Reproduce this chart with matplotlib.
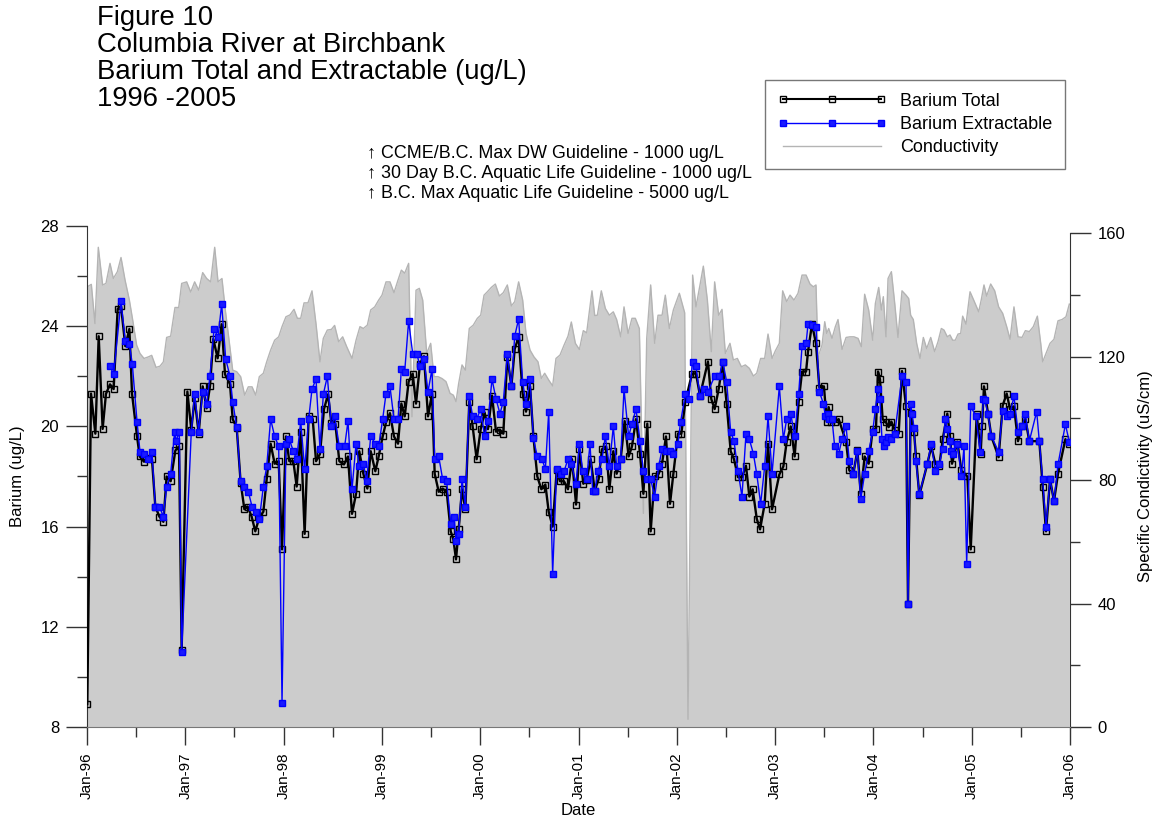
import matplotlib
matplotlib.use("Agg")
import matplotlib.pyplot as plt
from matplotlib.lines import Line2D
from matplotlib.ticker import MultipleLocator

plt.rcParams['font.family'] = ['Liberation Sans', 'DejaVu Sans']

# ---------------- data (decimal years) ----------------
cond_year = [
    1996.003, 1996.044, 1996.081, 1996.115, 1996.159, 1996.193, 1996.234, 1996.268, 1996.309, 1996.346,
    1996.387, 1996.431, 1996.465, 1996.505, 1996.539, 1996.580, 1996.624, 1996.658, 1996.702, 1996.743,
    1996.777, 1996.810, 1996.851, 1996.895, 1996.933, 1996.963, 1997.014, 1997.055, 1997.095, 1997.136,
    1997.177, 1997.217, 1997.258, 1997.299, 1997.333, 1997.373, 1997.407, 1997.441, 1997.482, 1997.523,
    1997.563, 1997.604, 1997.641, 1997.679, 1997.716, 1997.753, 1997.794, 1997.828, 1997.868, 1997.909,
    1997.950, 1997.984, 1998.024, 1998.065,
    1998.106, 1998.140, 1998.174, 1998.208, 1998.248, 1998.289, 1998.330, 1998.370, 1998.404, 1998.445,
    1998.486, 1998.519, 1998.560, 1998.601, 1998.642, 1998.696, 1998.737, 1998.777, 1998.811, 1998.852,
    1998.886, 1998.927, 1998.967, 1999.001, 1999.042, 1999.082, 1999.123, 1999.164, 1999.198, 1999.232,
    1999.272, 1999.306, 1999.347, 1999.381, 1999.415, 1999.456, 1999.496, 1999.530, 1999.571, 1999.611,
    1999.652, 1999.693, 1999.727, 1999.754, 1999.781, 1999.815, 1999.849, 1999.889, 1999.930, 1999.971,
    2000.005, 2000.039, 2000.073,
    2000.113, 2000.154, 2000.195, 2000.235, 2000.276, 2000.317, 2000.351, 2000.391, 2000.432, 2000.466,
    2000.507, 2000.547, 2000.588, 2000.622, 2000.656, 2000.697, 2000.737, 2000.771, 2000.812, 2000.853,
    2000.893, 2000.927, 2000.968, 2001.009, 2001.049, 2001.083, 2001.137, 2001.165, 2001.192, 2001.232,
    2001.273, 2001.314, 2001.354, 2001.388, 2001.429, 2001.463, 2001.504, 2001.544, 2001.578, 2001.619,
    2001.660, 2001.694, 2001.734, 2001.775, 2001.809, 2001.850, 2001.883, 2001.924, 2001.965, 2002.026,
    2002.080, 2002.114,
    2002.161, 2002.195, 2002.236, 2002.270, 2002.311, 2002.351, 2002.385, 2002.426, 2002.460, 2002.494,
    2002.541, 2002.575, 2002.616, 2002.657, 2002.697, 2002.738, 2002.779, 2002.813, 2002.853, 2002.894,
    2002.928, 2002.969, 2003.003, 2003.043, 2003.077, 2003.118, 2003.152, 2003.192, 2003.233, 2003.274,
    2003.315, 2003.355, 2003.389, 2003.416, 2003.437, 2003.477, 2003.505, 2003.525, 2003.545, 2003.579,
    2003.613, 2003.640, 2003.681, 2003.722, 2003.762, 2003.803, 2003.844, 2003.877, 2003.911, 2003.952,
    2003.993, 2004.020, 2004.054, 2004.081, 2004.101, 2004.128,
    2004.149, 2004.183, 2004.217, 2004.250, 2004.291, 2004.332, 2004.359, 2004.379, 2004.406, 2004.440,
    2004.474, 2004.508, 2004.542, 2004.583, 2004.623, 2004.657, 2004.691, 2004.718, 2004.752, 2004.779,
    2004.806, 2004.833, 2004.861, 2004.888, 2004.908, 2004.942, 2004.983, 2005.023, 2005.071, 2005.098,
    2005.125, 2005.152, 2005.193, 2005.234, 2005.274, 2005.315, 2005.356, 2005.390, 2005.430, 2005.471,
    2005.512, 2005.546, 2005.586, 2005.627, 2005.668, 2005.702, 2005.722, 2005.756, 2005.797, 2005.837,
    2005.878, 2005.919, 2005.959, 2005.993,
]
cond_val = [
    142.6, 143.4, 130.7, 155.4, 143.2, 143.7, 150.2, 145.3, 147.5, 152.1,
    144.8, 138.3, 131.8, 123.7, 121.0, 119.4, 119.9, 120.4, 116.5, 116.9,
    118.3, 126.2, 126.6, 135.9, 135.9, 143.7, 144.2, 140.9, 144.2, 141.5,
    147.2, 145.3, 144.2, 155.4, 144.2, 145.3, 135.1, 126.4, 115.6, 115.1,
    113.5, 107.5, 110.2, 110.2, 107.5, 113.5, 114.6, 118.3, 122.1, 125.3,
    126.4, 129.7, 132.9, 133.5,
    135.3, 132.4, 132.4, 137.4, 137.4, 141.3, 130.5, 118.3, 125.9, 128.6,
    128.8, 130.1, 124.8, 126.4, 123.2, 119.4, 125.3, 129.7, 129.1, 130.2,
    135.1, 136.1, 138.3, 139.9, 144.2, 144.2, 140.7, 144.8, 148.0, 147.0,
    150.2, 100.5, 141.5, 142.1, 138.3, 121.0, 124.3, 113.5, 113.5, 112.9,
    111.9, 108.1, 107.5, 105.4, 111.3, 117.3, 115.6, 129.1, 130.2, 132.4,
    133.4, 139.9, 141.0,
    142.4, 143.5, 139.6, 140.7, 143.2, 136.4, 137.8, 144.2, 138.3, 127.5,
    122.1, 119.9, 118.3, 112.9, 114.6, 112.4, 110.5, 119.4, 120.5, 123.7,
    126.6, 131.2, 124.3, 122.3, 128.4, 127.7, 141.3, 133.3, 133.4, 141.3,
    135.6, 133.4, 134.5, 132.0, 126.4, 136.1, 127.5, 132.4, 132.4, 129.1,
    69.2, 125.9, 143.2, 124.3, 133.4, 133.4, 139.9, 129.1, 135.1, 140.5,
    134.2, 2.5,
    146.4, 136.1, 143.2, 149.3, 138.3, 121.6, 144.2, 133.4, 135.3, 121.0,
    124.3, 118.9, 119.4, 116.7, 117.3, 116.2, 113.7, 114.6, 119.4, 119.4,
    127.3, 119.4, 121.9, 124.3, 141.3, 137.8, 139.9, 138.3, 140.5, 146.4,
    146.4, 143.5, 142.6, 143.2, 119.9, 123.7, 131.3, 127.5, 129.1, 125.9,
    129.7, 132.0, 122.3, 126.2, 126.4, 126.4, 125.9, 123.2, 140.2, 135.1,
    125.3, 137.2, 142.4, 135.1, 139.4, 126.4,
    145.3, 147.5, 137.2, 126.2, 141.3, 139.9, 138.8, 133.4, 132.0, 124.3,
    119.4, 126.2, 122.6, 126.2, 121.6, 124.8, 129.1, 128.6, 126.4, 127.0,
    125.3, 125.3, 127.3, 127.5, 133.1, 130.5, 141.0, 138.1, 134.5, 138.5,
    143.2, 139.6, 143.5, 141.3, 136.1, 134.0, 129.7, 125.6, 136.1, 126.4,
    126.2, 128.4, 128.1, 129.7, 133.1, 124.3, 118.3, 121.0, 124.3, 125.6,
    131.6, 132.0, 132.9, 137.0,
]

total_year = [
    1996.003, 1996.041, 1996.085, 1996.119, 1996.159, 1996.193, 1996.234, 1996.271, 1996.312, 1996.346,
    1996.390, 1996.431, 1996.458, 1996.509, 1996.536, 1996.580, 1996.624, 1996.661, 1996.695, 1996.736,
    1996.777, 1996.810, 1996.851, 1996.899, 1996.936, 1996.963, 1997.021, 1997.061, 1997.095, 1997.136,
    1997.177, 1997.217, 1997.251, 1997.285, 1997.329, 1997.370, 1997.404, 1997.455, 1997.482, 1997.523,
    1997.563, 1997.601, 1997.634, 1997.675, 1997.712, 1997.753, 1997.794, 1997.828, 1997.868, 1997.909,
    1997.950, 1997.984, 1998.024, 1998.058,
    1998.099, 1998.133, 1998.174, 1998.214, 1998.255, 1998.296, 1998.330, 1998.370, 1998.411, 1998.452,
    1998.486, 1998.526, 1998.567, 1998.614, 1998.655, 1998.696, 1998.737, 1998.770, 1998.811, 1998.852,
    1998.886, 1998.933, 1998.967, 1999.008, 1999.042, 1999.082, 1999.123, 1999.164, 1999.198, 1999.232,
    1999.272, 1999.313, 1999.347, 1999.388, 1999.428, 1999.469, 1999.510, 1999.537, 1999.578, 1999.618,
    1999.659, 1999.700, 1999.727, 1999.754, 1999.781, 1999.815, 1999.849, 1999.889, 1999.923, 1999.964,
    2000.005,
    2000.045, 2000.079, 2000.120, 2000.161, 2000.201, 2000.235, 2000.276, 2000.317, 2000.351, 2000.391,
    2000.432, 2000.466, 2000.507, 2000.541, 2000.581, 2000.622, 2000.663, 2000.697, 2000.737, 2000.778,
    2000.812, 2000.853, 2000.893, 2000.934, 2000.975, 2001.009, 2001.049, 2001.083, 2001.124, 2001.165,
    2001.205, 2001.239, 2001.280, 2001.314, 2001.354, 2001.388, 2001.429, 2001.470, 2001.510, 2001.544,
    2001.585, 2001.626, 2001.660, 2001.700, 2001.734, 2001.775, 2001.816, 2001.850, 2001.890, 2001.931,
    2001.965, 2002.012, 2002.046,
    2002.087, 2002.155, 2002.195, 2002.236, 2002.317, 2002.351, 2002.385, 2002.426, 2002.467, 2002.507,
    2002.548, 2002.582, 2002.623, 2002.663, 2002.704, 2002.738, 2002.772, 2002.813, 2002.847, 2002.894,
    2002.928, 2002.969, 2003.043, 2003.084, 2003.118, 2003.159, 2003.199, 2003.240, 2003.274, 2003.315,
    2003.335, 2003.375, 2003.416, 2003.450, 2003.497, 2003.525, 2003.545, 2003.572, 2003.606, 2003.647,
    2003.722, 2003.755, 2003.796, 2003.837, 2003.871, 2003.911, 2003.952, 2003.993, 2004.026, 2004.047,
    2004.067, 2004.094, 2004.128, 2004.155,
    2004.183, 2004.217, 2004.257, 2004.291, 2004.332, 2004.352, 2004.379, 2004.413, 2004.433, 2004.467,
    2004.549, 2004.589, 2004.630, 2004.671, 2004.705, 2004.752, 2004.779, 2004.800, 2004.854, 2004.895,
    2004.956, 2004.990, 2005.051, 2005.091, 2005.105, 2005.125, 2005.166, 2005.200, 2005.274, 2005.315,
    2005.356, 2005.390, 2005.430, 2005.471, 2005.512, 2005.546, 2005.586, 2005.688, 2005.722, 2005.756,
    2005.797, 2005.837, 2005.878, 2005.953, 2005.993,
]
total_val = [
    8.91, 21.31, 19.71, 23.6, 19.9, 21.3, 21.68, 21.49, 24.69, 24.8,
    23.2, 23.89, 21.31, 19.6, 18.8, 18.59, 18.72, 18.69, 16.8, 16.4,
    16.19, 18.0, 17.81, 19.04, 19.2, 11.09, 21.39, 19.87, 21.12, 19.71,
    21.6, 20.72, 21.6, 23.49, 22.72, 24.08, 22.08, 21.68, 20.29, 19.95,
    17.76, 16.69, 16.8, 16.4, 15.81, 16.37, 16.59, 17.89, 19.31, 18.51,
    18.61, 15.09, 19.6, 18.61,
    18.61, 17.6, 19.79, 15.71, 20.43, 20.29, 18.61, 18.9, 20.69, 21.28,
    20.13, 20.11, 18.61, 18.48, 18.8, 16.51, 17.31, 19.01, 18.11, 17.52,
    19.01, 18.21, 18.8, 19.6, 20.16, 20.53, 19.6, 19.31, 20.91, 20.4,
    21.79, 22.11, 20.91, 22.51, 22.8, 20.4, 21.31, 18.11, 17.39, 17.52,
    17.39, 15.81, 15.49, 14.69, 15.89, 17.49, 16.69, 20.99, 20.0, 18.69,
    19.89,
    20.56, 19.89, 21.23, 19.79, 19.87, 19.71, 22.77, 21.6, 23.09, 23.57,
    21.31, 20.59, 21.6, 19.6, 18.0, 17.49, 17.68, 16.59, 16.0, 18.24,
    17.81, 17.81, 17.49, 18.69, 16.88, 19.09, 17.71, 17.87, 18.69, 17.44,
    17.89, 19.09, 19.2, 17.49, 19.01, 18.11, 18.69, 20.21, 18.8, 19.2,
    20.29, 18.91, 17.31, 20.11, 15.81, 18.0, 18.11, 18.51, 19.6, 16.91,
    18.11, 19.71, 19.71,
    20.99, 22.11, 22.11, 21.23, 22.59, 21.09, 20.69, 21.49, 22.56, 20.91,
    19.01, 18.69, 17.97, 17.97, 18.43, 17.2, 17.49, 16.32, 15.89, 16.91,
    19.31, 16.69, 18.08, 18.4, 19.39, 20.0, 18.8, 20.99, 22.19, 22.19,
    22.99, 24.08, 23.31, 21.55, 21.6, 20.19, 20.77, 20.16, 20.16, 20.29,
    19.39, 18.24, 18.11, 19.04, 17.31, 18.8, 18.51, 19.89, 19.89, 22.19,
    21.89, 20.29, 20.16, 19.97,
    20.19, 19.87, 19.71, 22.21, 20.8, 12.93, 20.53, 19.79, 18.8, 17.25,
    18.51, 19.2, 18.51, 18.43, 19.49, 20.51, 19.63, 18.51, 19.39, 18.24,
    18.0, 15.09, 20.48, 18.91, 20.0, 21.6, 20.51, 19.6, 18.77, 20.83,
    21.31, 20.69, 20.8, 19.41, 20.0, 20.29, 19.41, 19.41, 17.6, 15.81,
    17.89, 17.01, 18.11, 19.49, 19.31,
]

extr_year = [
    1996.234, 1996.271, 1996.346, 1996.390, 1996.431, 1996.461, 1996.509, 1996.539, 1996.580, 1996.624,
    1996.661, 1996.695, 1996.736, 1996.777, 1996.810, 1996.851, 1996.892, 1996.905, 1996.939, 1996.963,
    1997.061, 1997.095, 1997.136, 1997.177, 1997.217, 1997.251, 1997.292, 1997.333, 1997.370, 1997.411,
    1997.455, 1997.482, 1997.523, 1997.563, 1997.601, 1997.641, 1997.679, 1997.716, 1997.753, 1997.794,
    1997.828, 1997.868, 1997.909, 1997.950, 1997.984, 1998.024, 1998.058,
    1998.099, 1998.133, 1998.174, 1998.214, 1998.255, 1998.289, 1998.330, 1998.370, 1998.404, 1998.445,
    1998.486, 1998.519, 1998.567, 1998.621, 1998.655, 1998.696, 1998.737, 1998.770, 1998.811, 1998.845,
    1998.886, 1998.933, 1998.967, 1999.008, 1999.042, 1999.082, 1999.123, 1999.164, 1999.198, 1999.232,
    1999.272, 1999.313, 1999.354, 1999.388, 1999.428, 1999.469, 1999.510, 1999.537, 1999.578, 1999.618,
    1999.659, 1999.700, 1999.734, 1999.754, 1999.781, 1999.815, 1999.849, 1999.889, 1999.923, 1999.964,
    2000.005,
    2000.045, 2000.079, 2000.120, 2000.161, 2000.201, 2000.235, 2000.276, 2000.317, 2000.351, 2000.391,
    2000.432, 2000.466, 2000.507, 2000.541, 2000.581, 2000.629, 2000.663, 2000.697, 2000.737, 2000.778,
    2000.819, 2000.853, 2000.893, 2000.927, 2000.975, 2001.009, 2001.043, 2001.083, 2001.117, 2001.144,
    2001.165, 2001.198, 2001.239, 2001.273, 2001.314, 2001.354, 2001.388, 2001.429, 2001.463, 2001.510,
    2001.544, 2001.585, 2001.626, 2001.660, 2001.694, 2001.734, 2001.775, 2001.816, 2001.850, 2001.890,
    2001.931, 2001.965, 2002.012, 2002.039,
    2002.087, 2002.121, 2002.161, 2002.195, 2002.236, 2002.277, 2002.317, 2002.385, 2002.433, 2002.467,
    2002.507, 2002.548, 2002.582, 2002.623, 2002.663, 2002.704, 2002.738, 2002.779, 2002.813, 2002.853,
    2002.894, 2002.928, 2002.969, 2003.043, 2003.084, 2003.118, 2003.159, 2003.199, 2003.240, 2003.274,
    2003.315, 2003.335, 2003.375, 2003.416, 2003.450, 2003.491, 2003.511, 2003.538, 2003.552, 2003.579,
    2003.606, 2003.647, 2003.681, 2003.722, 2003.755, 2003.796, 2003.837, 2003.871, 2003.911, 2003.952,
    2003.993, 2004.020, 2004.047, 2004.067, 2004.087, 2004.108, 2004.128, 2004.148, 2004.183, 2004.217,
    2004.291, 2004.332, 2004.352, 2004.379, 2004.393, 2004.413, 2004.433, 2004.467, 2004.549, 2004.589,
    2004.630, 2004.671, 2004.705, 2004.732, 2004.752, 2004.779, 2004.793, 2004.813, 2004.854, 2004.895,
    2004.922, 2004.949, 2004.990, 2005.044, 2005.085, 2005.119, 2005.132, 2005.166, 2005.200, 2005.274,
    2005.315, 2005.356, 2005.390, 2005.430, 2005.471, 2005.512, 2005.546, 2005.586, 2005.661, 2005.688,
    2005.722, 2005.756, 2005.797, 2005.837, 2005.878, 2005.953, 2005.993,
]
extr_val = [
    22.4, 22.08, 24.99, 23.39, 23.28, 22.48, 20.19, 18.99, 18.88, 18.69,
    18.99, 16.8, 16.8, 16.4, 17.6, 18.11, 19.79, 19.41, 19.79, 11.01,
    19.79, 21.31, 19.79, 21.39, 20.91, 22.0, 23.89, 23.57, 24.88, 22.69,
    22.0, 20.99, 19.97, 17.81, 17.6, 17.39, 16.8, 16.59, 16.29, 17.6,
    18.4, 20.29, 19.6, 19.2, 8.96, 19.28, 19.49,
    19.01, 18.69, 20.21, 18.29, 20.29, 21.49, 21.89, 19.09, 21.28, 22.0,
    20.0, 20.4, 19.2, 19.2, 20.21, 17.49, 19.31, 18.4, 18.51, 17.81,
    19.6, 19.31, 19.2, 20.29, 21.31, 21.6, 20.29, 20.29, 22.29, 22.19,
    24.21, 22.91, 22.91, 22.4, 22.69, 21.39, 22.29, 18.69, 18.8, 17.89,
    17.81, 16.11, 16.4, 15.41, 15.71, 17.89, 16.8, 21.2, 20.4, 20.29,
    20.69,
    19.6, 20.21, 21.89, 21.09, 20.51, 20.99, 22.88, 21.6, 23.6, 24.29,
    21.79, 20.88, 21.89, 19.52, 18.8, 18.69, 18.29, 20.59, 14.11, 18.29,
    18.08, 18.21, 18.69, 18.51, 17.71, 19.31, 18.21, 17.89, 19.31, 17.41,
    17.41, 18.21, 18.69, 19.6, 18.4, 20.0, 18.4, 18.69, 21.49, 19.6,
    20.11, 20.69, 19.41, 18.21, 17.89, 17.89, 17.2, 18.4, 19.09, 19.01,
    19.01, 18.91, 19.31, 20.19,
    21.28, 21.09, 22.59, 22.4, 21.2, 21.49, 21.39, 22.0, 22.0, 22.59,
    21.79, 19.79, 19.41, 18.21, 17.2, 19.71, 19.49, 18.91, 18.11, 16.91,
    18.4, 20.4, 18.11, 21.6, 19.49, 20.29, 20.51, 19.6, 21.31, 23.2,
    23.31, 24.08, 24.03, 23.97, 21.39, 20.91, 20.43, 20.51, 20.29, 20.29,
    19.2, 18.91, 19.49, 20.0, 18.61, 18.11, 19.01, 17.09, 18.11, 19.01,
    19.79, 20.69, 21.49, 21.09, 19.49, 19.2, 19.36, 19.57, 19.49, 19.71,
    22.0, 21.79, 12.91, 20.9, 20.51, 19.95, 18.61, 17.3, 18.51, 19.31,
    18.21, 18.51, 19.09, 20.29, 19.89, 19.41, 19.01, 18.91, 19.31, 18.0,
    19.2, 14.51, 20.8, 20.4, 18.99, 21.09, 21.04, 20.51, 19.6, 18.99,
    20.61, 20.4, 20.51, 21.2, 19.79, 20.0, 20.48, 19.41, 20.59, 19.41,
    17.89, 16.0, 17.89, 17.01, 18.48, 20.08, 19.39,
]

year_ticks = list(range(1996, 2007))
year_labels = ['Jan-96', 'Jan-97', 'Jan-98', 'Jan-99', 'Jan-00', 'Jan-01',
               'Jan-02', 'Jan-03', 'Jan-04', 'Jan-05', 'Jan-06']

title_lines = ['Figure 10', 'Columbia River at Birchbank',
               'Barium Total and Extractable (ug/L)', '1996 -2005']
guideline_lines = ['\u2191 CCME/B.C. Max DW Guideline - 1000 ug/L',
                   '\u2191 30 Day B.C. Aquatic Life Guideline - 1000 ug/L',
                   '\u2191 B.C. Max Aquatic Life Guideline - 5000 ug/L']

# ---------------- figure ----------------
W, H = 1157, 821
fig = plt.figure(figsize=(W / 100, H / 100), dpi=100)
x0, x1, y_top, y_bot = 87, 1070, 226, 727
ax = fig.add_axes([x0 / W, 1 - y_bot / H, (x1 - x0) / W, (y_bot - y_top) / H])
ax2 = ax.twinx()

# conductivity (right axis) as grey area
ax2.fill_between(cond_year, cond_val, 0, color='#cccccc', lw=0)
ax2.plot(cond_year, cond_val, color='#b4b4b4', lw=1)
ax2.set_ylim(0, 162.3)
ax2.yaxis.set_major_locator(MultipleLocator(40))
ax2.yaxis.set_minor_locator(MultipleLocator(20))
for s in ['left', 'top', 'bottom']:
    ax2.spines[s].set_visible(False)
ax2.spines['right'].set_bounds(0, 160)
ax2.spines['right'].set_color('#333333')
ax2.tick_params(axis='y', which='major', direction='out', length=15, width=1,
                labelsize=12, pad=5, color='#333333')
ax2.tick_params(axis='y', which='minor', direction='out', length=7.5, width=1, color='#333333')
ax2.set_ylabel('Specific Condictivity (uS/cm)', fontsize=12)
ax2.yaxis.set_label_coords(1.069, 0.5)

# barium on top
ax.set_zorder(ax2.get_zorder() + 1)
ax.patch.set_visible(False)
ax.plot(total_year, total_val, color='black', lw=1.7, marker='s', ms=4.8,
        mfc='none', mec='black', mew=1.0, zorder=3)
ax.plot(extr_year, extr_val, color='#0000ff', lw=1.0, marker='s', ms=4.6,
        mfc='#1a1aff', mec='#0000ff', mew=1, zorder=4)

ax.set_xlim(1996, 2006)
ax.set_ylim(8, 28)
ax.yaxis.set_major_locator(MultipleLocator(4))
ax.yaxis.set_minor_locator(MultipleLocator(2))
ax.set_xticks(year_ticks)
ax.set_xticklabels(year_labels, rotation=90)
ax.xaxis.set_minor_locator(MultipleLocator(0.5))
ax.spines['top'].set_visible(False)
ax.spines['right'].set_visible(False)
ax.spines['left'].set_color('#333333')
ax.spines['bottom'].set_color('#777777')
ax.tick_params(axis='y', which='major', direction='out', length=15, width=1,
               labelsize=12, pad=5, color='#333333')
ax.tick_params(axis='y', which='minor', direction='out', length=7.5, width=1, color='#333333')
ax.tick_params(axis='x', which='major', direction='out', length=13, width=1,
               labelsize=11, pad=5, color='#333333')
ax.tick_params(axis='x', which='minor', direction='out', length=7, width=1, color='#333333')
ax.set_ylabel('Barium (ug/L)', fontsize=12)
ax.yaxis.set_label_coords(-0.063, 0.5)
ax.set_xlabel('Date', fontsize=12)
ax.xaxis.set_label_coords(0.5, -0.152)

# titles
for i, line in enumerate(title_lines):
    fig.text(97 / W, 1 - (18 + 27 * i) / H, line, fontsize=19.8, va='center', ha='left')
for i, line in enumerate(guideline_lines):
    fig.text(367 / W, 1 - (153 + 20.5 * i) / H, line, fontsize=12.9, va='center', ha='left')

# legend
handles = [
    Line2D([], [], color='black', lw=1.5, marker='s', ms=4.5, mfc='none', mec='black', mew=1),
    Line2D([], [], color='#0000ff', lw=1.0, marker='s', ms=4.5, mfc='#1a1aff', mec='#0000ff'),
    Line2D([], [], color='#b4b4b4', lw=1.0),
]
labels = ['Barium Total', 'Barium Extractable', 'Conductivity']
leg = fig.legend(handles, labels, loc='upper left', bbox_to_anchor=(765 / W, 1 - 80 / H),
                 numpoints=3, handlelength=6.0, fontsize=13, frameon=True, fancybox=False,
                 edgecolor='#555555', borderpad=0.7, labelspacing=0.35, handletextpad=0.8,
                 borderaxespad=0)
leg.get_frame().set_linewidth(1)

fig.savefig('out.png', dpi=100)
